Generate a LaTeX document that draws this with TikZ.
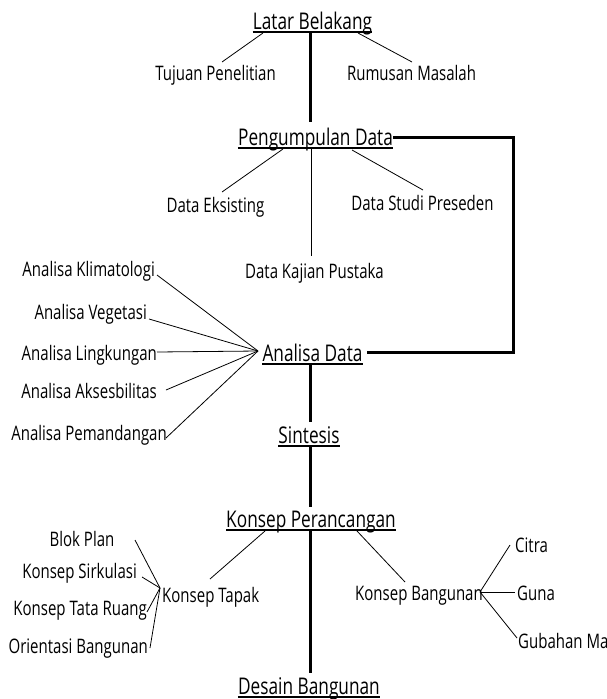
\documentclass[tikz,border=0pt]{standalone}
\usepackage{fontspec}
\setmainfont{Open Sans}[FakeStretch=0.75]
\begin{document}
\begin{tikzpicture}[x=1pt,y=-1pt,
  mainlbl/.style={font=\fontsize{23}{27}\selectfont, inner sep=0pt, anchor=base},
  sublbl/.style={font=\fontsize{20}{24}\selectfont, inner sep=0pt, anchor=base},
  thk/.style={line width=3pt},
  thn/.style={line width=0.8pt},
  ulline/.style={line width=1.1pt}]
\useasboundingbox (0,0) rectangle (607,699);

% main (underlined) labels
\node[mainlbl] (lb) at (312.5,29) {Latar Belakang};
\node[mainlbl] (pd) at (315.5,145) {Pengumpulan Data};
\node[mainlbl] (ad) at (312.5,361) {Analisa Data};
\node[mainlbl] (si) at (309,443) {Sintesis};
\node[mainlbl] (kp) at (311,527) {Konsep Perancangan};
\node[mainlbl] (db) at (309,694) {Desain Bangunan};
\foreach \n in {lb,pd,ad,si,kp,db}
  \draw[ulline] ([yshift=-3pt]\n.base west) -- ([yshift=-3pt]\n.base east);

% sub labels
\node[sublbl] (tp) at (215.5,80) {Tujuan Penelitian};
\node[sublbl] (rm) at (411.5,80) {Rumusan Masalah};
\node[sublbl] (de) at (215.5,212) {Data Eksisting};
\node[sublbl] (ds) at (422.5,210) {Data Studi Preseden};
\node[sublbl] (dk) at (314.5,278) {Data Kajian Pustaka};
\node[sublbl,anchor=base east] (ak) at (155,276) {Analisa Klimatologi};
\node[sublbl,anchor=base east] (av) at (147,319) {Analisa Vegetasi};
\node[sublbl,anchor=base east] (al) at (157,360) {Analisa Lingkungan};
\node[sublbl,anchor=base east] (aa) at (157,398) {Analisa Aksesbilitas};
\node[sublbl,anchor=base east] (ap) at (167,440) {Analisa Pemandangan};
\node[sublbl] (bp) at (82,546) {Blok Plan};
\node[sublbl,anchor=base east] (ks) at (137,578) {Konsep Sirkulasi};
\node[sublbl,anchor=base east] (kt) at (147,615) {Konsep Tata Ruang};
\node[sublbl,anchor=base east] (ob) at (148,653) {Orientasi Bangunan};
\node[sublbl,anchor=base west] (kta) at (162,602) {Konsep Tapak};
\node[sublbl,anchor=base west] (kb) at (355,600) {Konsep Bangunan};
\node[sublbl,anchor=base west] (ci) at (515,552) {Citra};
\node[sublbl,anchor=base west] (gu) at (517,600) {Guna};
\node[sublbl,anchor=base west] (gm) at (518,648) {Gubahan Ma};

% connector end points
\coordinate (lbT) at (263,33);  \coordinate (tpT) at (222,62);
\coordinate (lbR) at (358,33);  \coordinate (rmT) at (412,62);
\coordinate (pdE) at (283,149); \coordinate (deT) at (222,192);
\coordinate (pdS) at (352,150); \coordinate (dsT) at (423,190);
\coordinate (fan) at (258,351);
\coordinate (akE) at (157,275); \coordinate (avE) at (149,319);
\coordinate (alE) at (157,352); \coordinate (aaE) at (166,390);
\coordinate (apE) at (166,438);
\coordinate (kpL) at (265,531); \coordinate (ktaT) at (210,579);
\coordinate (kpR) at (357,531); \coordinate (kbT) at (405,582);
\coordinate (tfan) at (160,588);
\coordinate (bpE) at (135,540); \coordinate (ksE) at (142,577);
\coordinate (ktE) at (147,612); \coordinate (obE) at (150,648);
\coordinate (bfan) at (480,592);
\coordinate (ciW) at (510,545); \coordinate (guW) at (515,592);
\coordinate (gmW) at (517,638);
\coordinate (loopTR) at (513,137);
\coordinate (loopBR) at (513,352);

% spine
\draw[thk] (310,32) -- (310,122);
\draw[thk] (ad.base -| 310,0) ++(0,3) -- (310,422);
\draw[thk] (310,447) -- (310,507);
\draw[thk] (310,531) -- (310,673);
% loop
\draw[thk] (pd.east |- loopTR) -- (loopTR) -- (loopBR) -- ([xshift=4pt]ad.east |- loopBR);

% thin connectors
\draw[thn] (lbT) -- (tpT);
\draw[thn] (lbR) -- (rmT);
\draw[thn] (pdE) -- (deT);
\draw[thn] (pdS) -- (dsT);
\draw[thn] (311,148) -- (311,256);
\foreach \p in {akE,avE,alE,aaE,apE} \draw[thn] (\p) -- (fan);
\draw[thn] (kpL) -- (ktaT);
\draw[thn] (kpR) -- (kbT);
\foreach \p in {bpE,ksE,ktE,obE} \draw[thn] (\p) -- (tfan);
\foreach \p in {ciW,guW,gmW} \draw[thn] (bfan) -- (\p);
\end{tikzpicture}
\end{document}
